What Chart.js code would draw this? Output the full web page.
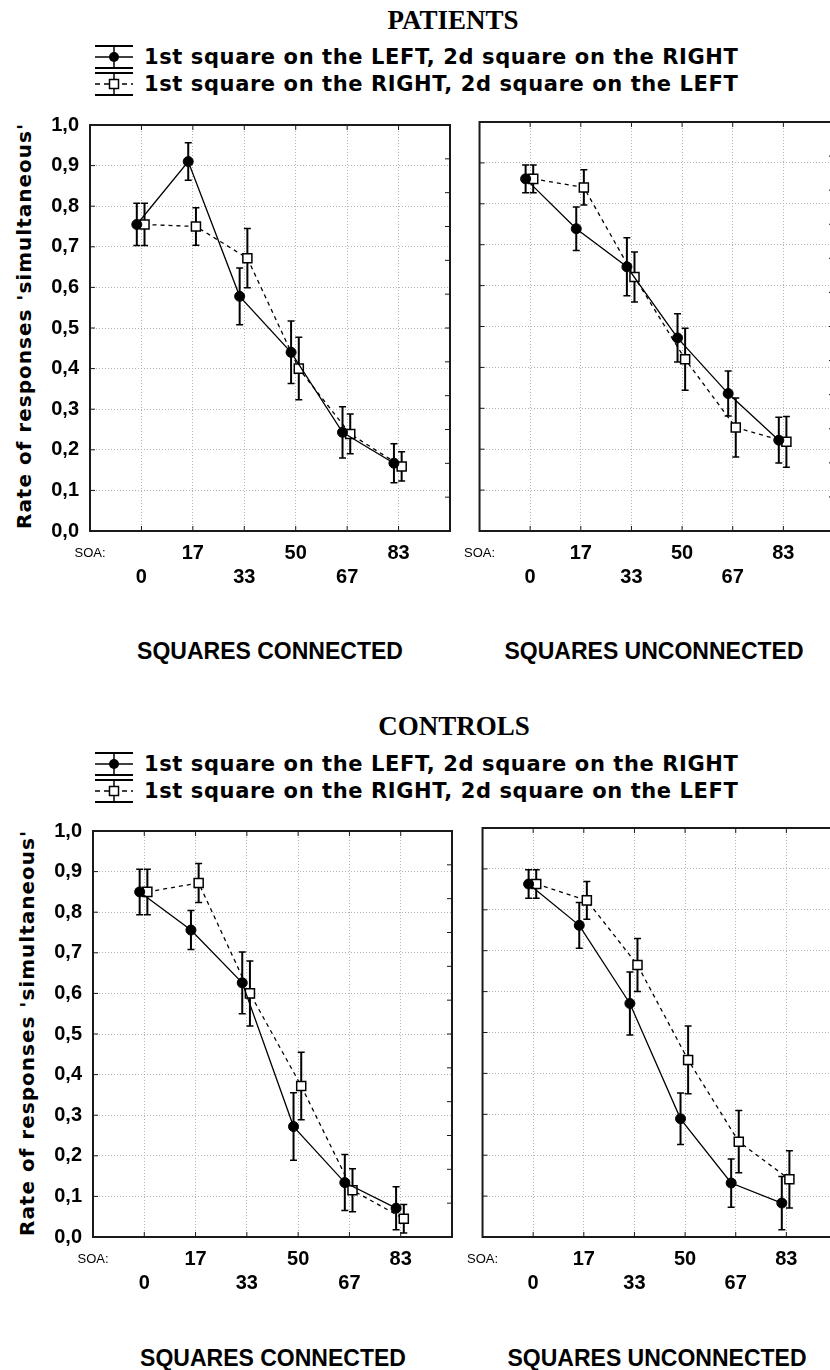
<!DOCTYPE html>
<html>
<head>
<meta charset="utf-8">
<script src="https://cdn.jsdelivr.net/npm/chart.js@4.4.1/dist/chart.umd.min.js"></script>
<style>
    html, body { margin: 0; padding: 0; background: #fff; overflow: hidden; }
    #page { position: relative; width: 830px; height: 1370px; overflow: hidden; background: #fff; }
    canvas { position: absolute; }
    .title { position: absolute; transform: translateX(-50%); font-family: "Liberation Serif", serif; font-weight: bold; font-size: 27px; line-height: 30px; white-space: nowrap; }
    .legend-row { position: absolute; left: 95px; height: 26px; display: flex; align-items: center; white-space: nowrap; }
    .legend-row span { margin-left: 11px; font-family: "DejaVu Sans", sans-serif; font-weight: bold; font-size: 21px; letter-spacing: 0.6px; }
    .ytitle { position: absolute; transform: translate(-50%, -50%) rotate(-90deg); font-family: "DejaVu Sans", sans-serif; font-weight: bold; font-size: 20px; letter-spacing: 1px; white-space: nowrap; }
    .xtitle { position: absolute; transform: translate(-50%, -50%); font-family: "Liberation Sans", Arial, sans-serif; font-weight: bold; font-size: 23px; white-space: nowrap; }
</style>
</head>
<body>
<div id="page">
    <div class="title" style="left:453px; top:5px;">PATIENTS</div>
    <div class="legend-row" style="top:44px;"><svg width="38" height="24"><line x1="0" y1="1" x2="38" y2="1" stroke="#000" stroke-width="2"/><line x1="0" y1="12" x2="38" y2="12" stroke="#000" stroke-width="1.5"/><line x1="0" y1="23" x2="38" y2="23" stroke="#000" stroke-width="2"/><line x1="19" y1="1" x2="19" y2="23" stroke="#000" stroke-width="1.5"/><circle cx="19" cy="12" r="5" fill="#000"/></svg><span>1st square on the LEFT, 2d square on the RIGHT</span></div>
    <div class="legend-row" style="top:71px;"><svg width="38" height="24"><line x1="0" y1="1" x2="38" y2="1" stroke="#000" stroke-width="2"/><line x1="0" y1="12" x2="38" y2="12" stroke="#000" stroke-width="1.5" stroke-dasharray="5,4"/><line x1="0" y1="23" x2="38" y2="23" stroke="#000" stroke-width="2"/><line x1="19" y1="1" x2="19" y2="23" stroke="#000" stroke-width="1.5"/><rect x="14.5" y="7.5" width="9" height="9" fill="#fff" stroke="#000" stroke-width="1.5"/></svg><span>1st square on the RIGHT, 2d square on the LEFT</span></div>
    <div class="ytitle" style="left:24px; top:326px;">Rate of responses 'simultaneous'</div>
    <canvas id="patConn" width="420" height="500" style="left:40px; top:102px;"></canvas>
    <canvas id="patUnconn" width="390" height="500" style="left:454px; top:102px;"></canvas>
    <div class="xtitle" style="left:270px; top:651px;">SQUARES CONNECTED</div>
    <div class="xtitle" style="left:654px; top:651px;">SQUARES UNCONNECTED</div>

    <div class="title" style="left:454px; top:711px;">CONTROLS</div>
    <div class="legend-row" style="top:751px;"><svg width="38" height="24"><line x1="0" y1="1" x2="38" y2="1" stroke="#000" stroke-width="2"/><line x1="0" y1="12" x2="38" y2="12" stroke="#000" stroke-width="1.5"/><line x1="0" y1="23" x2="38" y2="23" stroke="#000" stroke-width="2"/><line x1="19" y1="1" x2="19" y2="23" stroke="#000" stroke-width="1.5"/><circle cx="19" cy="12" r="5" fill="#000"/></svg><span>1st square on the LEFT, 2d square on the RIGHT</span></div>
    <div class="legend-row" style="top:778px;"><svg width="38" height="24"><line x1="0" y1="1" x2="38" y2="1" stroke="#000" stroke-width="2"/><line x1="0" y1="12" x2="38" y2="12" stroke="#000" stroke-width="1.5" stroke-dasharray="5,4"/><line x1="0" y1="23" x2="38" y2="23" stroke="#000" stroke-width="2"/><line x1="19" y1="1" x2="19" y2="23" stroke="#000" stroke-width="1.5"/><rect x="14.5" y="7.5" width="9" height="9" fill="#fff" stroke="#000" stroke-width="1.5"/></svg><span>1st square on the RIGHT, 2d square on the LEFT</span></div>
    <div class="ytitle" style="left:27px; top:1033px;">Rate of responses 'simultaneous'</div>
    <canvas id="ctrlConn" width="420" height="500" style="left:43px; top:808px;"></canvas>
    <canvas id="ctrlUnconn" width="390" height="500" style="left:457px; top:808px;"></canvas>
    <div class="xtitle" style="left:273px; top:1358px;">SQUARES CONNECTED</div>
    <div class="xtitle" style="left:657px; top:1358px;">SQUARES UNCONNECTED</div>
</div>

<script>
// SOA categories (ms) and y tick labels
const soaLabels = ['0', '17', '33', '50', '67', '83'];
const yTickLabels = ['0,0', '0,1', '0,2', '0,3', '0,4', '0,5', '0,6', '0,7', '0,8', '0,9', '1,0'];

// PATIENTS, squares connected
const patConnLeftFirst     = [0.755, 0.910, 0.578, 0.440, 0.243, 0.167];
const patConnLeftFirstErr  = [0.052, 0.046, 0.070, 0.077, 0.063, 0.048];
const patConnRightFirst    = [0.755, 0.750, 0.672, 0.400, 0.239, 0.159];
const patConnRightFirstErr = [0.052, 0.046, 0.073, 0.077, 0.049, 0.036];

// PATIENTS, squares unconnected
const patUnconnLeftFirst     = [0.861, 0.739, 0.646, 0.472, 0.336, 0.222];
const patUnconnLeftFirstErr  = [0.034, 0.053, 0.071, 0.059, 0.055, 0.056];
const patUnconnRightFirst    = [0.861, 0.840, 0.621, 0.420, 0.253, 0.218];
const patUnconnRightFirstErr = [0.034, 0.043, 0.061, 0.076, 0.072, 0.062];

// CONTROLS, squares connected
const ctrlConnLeftFirst     = [0.850, 0.756, 0.626, 0.272, 0.134, 0.071];
const ctrlConnLeftFirstErr  = [0.056, 0.048, 0.076, 0.083, 0.069, 0.053];
const ctrlConnRightFirst    = [0.850, 0.872, 0.600, 0.372, 0.115, 0.045];
const ctrlConnRightFirstErr = [0.056, 0.048, 0.080, 0.083, 0.053, 0.035];

// CONTROLS, squares unconnected
const ctrlUnconnLeftFirst     = [0.863, 0.762, 0.571, 0.289, 0.132, 0.083];
const ctrlUnconnLeftFirstErr  = [0.035, 0.056, 0.077, 0.063, 0.059, 0.065];
const ctrlUnconnRightFirst    = [0.863, 0.823, 0.665, 0.433, 0.233, 0.141];
const ctrlUnconnRightFirstErr = [0.035, 0.046, 0.065, 0.083, 0.076, 0.070];

// error bars go under the markers
const errorBars = {
    id: 'errorBars',
    beforeDatasetsDraw(chart) {
        const ctx = chart.ctx;
        const ys = chart.scales.y;
        chart.data.datasets.forEach((ds, di) => {
            const meta = chart.getDatasetMeta(di);
            ctx.save();
            ctx.strokeStyle = '#000';
            meta.data.forEach((pt, i) => {
                const v = ds.data[i].y;
                const top = ys.getPixelForValue(v + ds.errors[i]);
                const bot = ys.getPixelForValue(v - ds.errors[i]);
                ctx.lineWidth = 2;
                ctx.beginPath();
                ctx.moveTo(pt.x, top); ctx.lineTo(pt.x, bot);
                ctx.stroke();
                ctx.lineWidth = 1.5;
                ctx.beginPath();
                ctx.moveTo(pt.x - 3.5, top); ctx.lineTo(pt.x + 3.5, top);
                ctx.moveTo(pt.x - 3.5, bot); ctx.lineTo(pt.x + 3.5, bot);
                ctx.stroke();
            });
            ctx.restore();
        });
    }
};

// box round the plot with the small inward ticks
const frame = {
    id: 'frame',
    afterDraw(chart) {
        const ctx = chart.ctx;
        const a = chart.chartArea;
        const xs = chart.scales.x, ys = chart.scales.y;
        ctx.save();
        ctx.strokeStyle = '#1a1a1a';
        ctx.lineWidth = 1;
        ctx.beginPath();
        for (let i = 0; i < soaLabels.length; i++) {
            const px = xs.getPixelForValue(i);
            ctx.moveTo(px, a.top); ctx.lineTo(px, a.top + 5);
            ctx.moveTo(px, a.bottom); ctx.lineTo(px, a.bottom - 5);
        }
        for (let i = 1; i < yTickLabels.length - 1; i++) {
            const py = ys.getPixelForValue(i / 10);
            ctx.moveTo(a.left, py); ctx.lineTo(a.left + 5, py);
        }
        for (let k = 1; k < 12; k++) {
            const py = ys.getPixelForValue(k / 12);
            ctx.moveTo(a.right, py); ctx.lineTo(a.right - 5, py);
        }
        ctx.stroke();
        ctx.lineWidth = 2;
        ctx.strokeRect(a.left, a.top, a.right - a.left, a.bottom - a.top);
        ctx.restore();
    }
};

function shifted(values, dx) {
    return values.map((v, i) => ({ x: i + dx, y: v }));
}

function makePanel(id, leftFirst, leftFirstErr, rightFirst, rightFirstErr, showY, yWidth, padRight) {
    new Chart(document.getElementById(id), {
        type: 'line',
        data: {
            datasets: [
                {
                    label: '1st square on the LEFT, 2d square on the RIGHT',
                    data: shifted(leftFirst, -0.09),
                    errors: leftFirstErr,
                    borderColor: '#000',
                    borderWidth: 1.3,
                    pointStyle: 'circle',
                    pointRadius: 5,
                    pointBackgroundColor: '#000',
                    pointBorderColor: '#000',
                    pointBorderWidth: 1
                },
                {
                    label: '1st square on the RIGHT, 2d square on the LEFT',
                    data: shifted(rightFirst, 0.06),
                    errors: rightFirstErr,
                    borderColor: '#000',
                    borderWidth: 1.3,
                    borderDash: [4, 4],
                    pointStyle: 'rect',
                    pointRadius: 6.4,
                    pointBackgroundColor: '#fff',
                    pointBorderColor: '#000',
                    pointBorderWidth: 1.5
                }
            ]
        },
        options: {
            responsive: false,
            animation: false,
            events: [],
            layout: { padding: { top: 20, right: padRight, left: 0, bottom: 0 } },
            plugins: { legend: { display: false }, tooltip: { enabled: false } },
            scales: {
                x: {
                    type: 'linear',
                    min: -1,
                    max: 6,
                    afterFit: (s) => { s.height = 71; },
                    ticks: {
                        stepSize: 1,
                        autoSkip: false,
                        maxRotation: 0,
                        padding: 10,
                        color: '#000',
                        callback: (v) => {
                            if (v === -1) return ['SOA:', ''];
                            if (v < 0 || v > 5) return '';
                            return v % 2 === 0 ? ['', soaLabels[v]] : [soaLabels[v], ''];
                        },
                        font: (c) => (c.tick && c.tick.value === -1)
                            ? { family: '"Liberation Sans", Arial, sans-serif', size: 13, weight: 'normal', lineHeight: '24px' }
                            : { family: '"Liberation Sans Narrow", "Liberation Sans", sans-serif', size: 20, weight: 'bold', lineHeight: '24px' }
                    },
                    grid: { color: '#b4b4b4', lineWidth: 1, drawTicks: false },
                    border: { display: false, dash: [1, 2] }
                },
                y: {
                    min: 0,
                    max: 1,
                    afterFit: (s) => { s.width = yWidth; },
                    ticks: {
                        stepSize: 0.1,
                        display: showY,
                        padding: 11,
                        color: '#000',
                        callback: (v, i) => yTickLabels[i],
                        font: { family: '"Liberation Sans Narrow", "Liberation Sans", sans-serif', size: 20, weight: 'bold' }
                    },
                    grid: { color: '#b4b4b4', lineWidth: 1, drawTicks: false },
                    border: { display: false, dash: [1, 2] }
                }
            }
        },
        plugins: [errorBars, frame]
    });
}

makePanel('patConn', patConnLeftFirst, patConnLeftFirstErr, patConnRightFirst, patConnRightFirstErr, true, 50, 9);
makePanel('patUnconn', patUnconnLeftFirst, patUnconnLeftFirstErr, patUnconnRightFirst, patUnconnRightFirstErr, false, 20, 10);
makePanel('ctrlConn', ctrlConnLeftFirst, ctrlConnLeftFirstErr, ctrlConnRightFirst, ctrlConnRightFirstErr, true, 50, 11);
makePanel('ctrlUnconn', ctrlUnconnLeftFirst, ctrlUnconnLeftFirstErr, ctrlUnconnRightFirst, ctrlUnconnRightFirstErr, false, 20, 10);
</script>
</body>
</html>
